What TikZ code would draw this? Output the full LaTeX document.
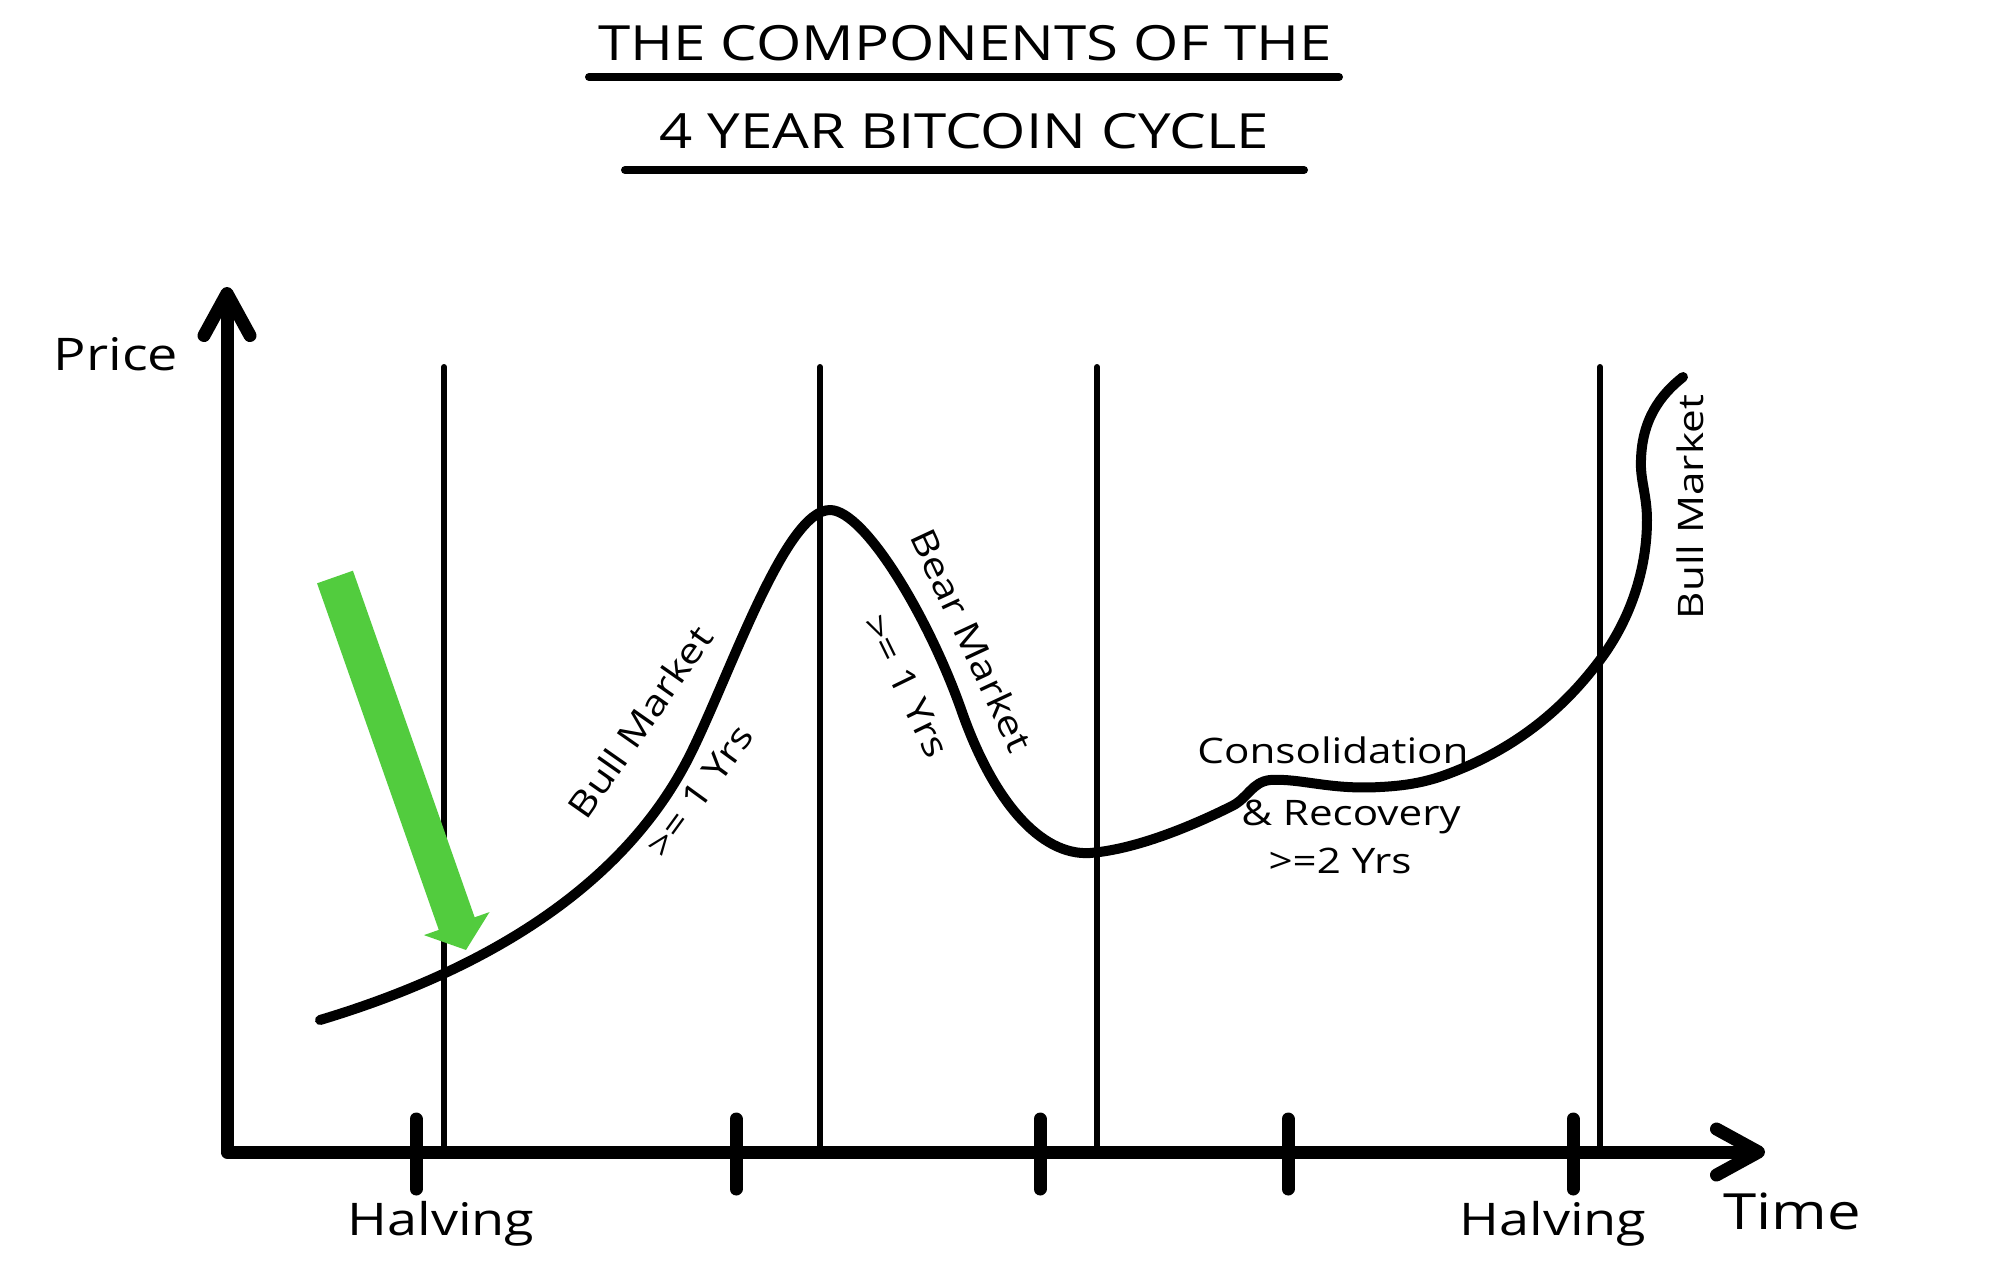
\documentclass[tikz,border=0pt]{standalone}
\usepackage{fontspec}
\setmainfont[FakeStretch=1.2]{Open Sans}
\usetikzlibrary{arrows.meta}

\definecolor{arrowgreen}{RGB}{82,204,62}

\tikzset{
  axis/.style={line width=1.3mm, line cap=round, line join=round, >={Straight Barb[length=4.2mm,width=4.6mm,round]}, <->},
  guide/.style={line width=0.6mm, line cap=round},
  tick/.style={line width=1.3mm, line cap=round},
  price curve/.style={line width=1mm, line cap=round, line join=round},
  rule/.style={line width=0.8mm, line cap=round},
  greenarrow/.style={draw=arrowgreen, line width=3.8mm, -{Triangle[length=2.8mm,width=6.8mm]}},
  title/.style={font=\fontsize{13.8pt}{16pt}\selectfont, inner sep=0pt, anchor=base},
  axlabel/.style={font=\fontsize{12.8pt}{15pt}\selectfont, inner sep=0pt, anchor=base},
  lbl/.style={font=\fontsize{10pt}{12pt}\selectfont, inner sep=0pt}
}

\begin{document}
\begin{tikzpicture}[x=0.1mm, y=-0.1mm]
\useasboundingbox[fill=white] (0,0) rectangle (2000,1262);

\node[title] (title1) at (965,60) {THE COMPONENTS OF THE};
\node[title] (title2) at (964,148) {4 YEAR BITCOIN CYCLE};
\draw[rule] (589,77) -- (1339,77);
\draw[rule] (625,170) -- (1304,170);

\coordinate (origin) at (227,1152);
\coordinate (ytip) at (227,287);
\coordinate (xtip) at (1765,1152);

\draw[guide] (444,367) -- (444,1152);
\draw[guide] (820,367) -- (820,1152);
\draw[guide] (1097,367) -- (1097,1152);
\draw[guide] (1600,367) -- (1600,1152);

\draw[axis] (ytip) |- (xtip);

\draw[tick] (416,1119) -- (416,1189);
\draw[tick] (736,1119) -- (736,1189);
\draw[tick] (1040,1119) -- (1040,1189);
\draw[tick] (1288,1119) -- (1288,1189);
\draw[tick] (1573,1119) -- (1573,1189);

\draw[price curve] (320,1020) .. controls (470,975) and (620,895) .. (690,755)
  .. controls (730,675) and (785,510) .. (830,510)
  .. controls (865,510) and (930,620) .. (962,712)
  .. controls (993,800) and (1040,856) .. (1090,853)
  .. controls (1140,849) and (1200,822) .. (1232,806)
  .. controls (1248,798) and (1252,782) .. (1270,780)
  .. controls (1300,778) and (1330,790) .. (1380,787)
  .. controls (1420,785) and (1440,778) .. (1470,765)
  .. controls (1530,738) and (1570,700) .. (1600,660)
  .. controls (1630,620) and (1647,570) .. (1647,520)
  .. controls (1647,495) and (1640,480) .. (1641,460)
  .. controls (1642,420) and (1660,395) .. (1683,377);

\coordinate (gtail) at (335,577);
\coordinate (gtip) at (466,950);
\draw[greenarrow] (gtail) -- (gtip);

\node[axlabel] (price) at (116,370) {Price};
\node[axlabel, font=\fontsize{14.2pt}{16pt}\selectfont] (time) at (1792,1229) {Time};
\node[axlabel] (halvA) at (441,1235) {Halving};
\node[axlabel] (halvB) at (1553,1235) {Halving};

\node[lbl, rotate=55] (bullA) at (640,722) {Bull Market};
\node[lbl, rotate=54] (yrsA) at (700,791) {>= 1 Yrs};
\node[lbl, rotate=-65] (bear) at (972,640) {Bear Market};
\node[lbl, rotate=-64] (yrsB) at (906,686) {>= 1 Yrs};
\node[lbl, anchor=base] (consol) at (1333,763) {Consolidation};
\node[lbl, anchor=base] (recov) at (1351,825) {\& Recovery};
\node[lbl, anchor=base] (yrsC) at (1340,873) {>=2 Yrs};
\node[lbl, rotate=90] (bullB) at (1690,507) {Bull Market};
\end{tikzpicture}
\end{document}
